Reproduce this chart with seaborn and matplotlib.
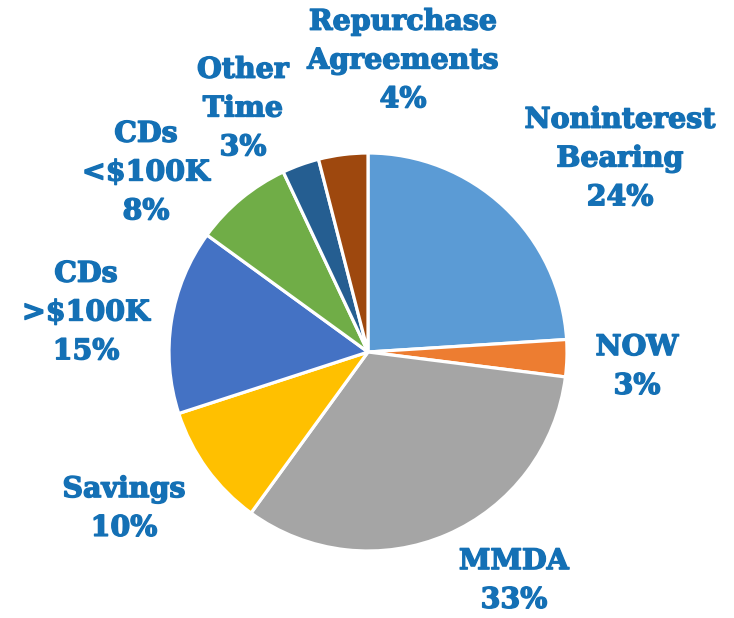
import matplotlib
matplotlib.use("Agg")
import matplotlib.pyplot as plt
import matplotlib.patheffects as pe
import seaborn as sns

categories = ["Noninterest\nBearing", "NOW", "MMDA", "Savings", "CDs\n>$100K",
              "CDs\n<$100K", "Other\nTime", "Repurchase\nAgreements"]
values = [24, 3, 33, 10, 15, 8, 3, 4]
colors = ["#5B9BD5", "#ED7D31", "#A5A5A5", "#FFC000", "#4472C4",
          "#70AD47", "#255E91", "#9E480E"]

# label centre positions in pixels (layout only)
label_px = [(620, 159), (637, 367), (514, 581), (124, 509), (86, 313),
            (146, 173), (243, 109), (403, 61)]

sns.set_theme(style="white")
plt.rcParams['font.family'] = ['DejaVu Serif']

W, H = 734, 618
fig = plt.figure(figsize=(W / 100, H / 100), dpi=100)
cx, cy, r = 368, 352, 199
ax = fig.add_axes([(cx - r) / W, (H - cy - r) / H, 2 * r / W, 2 * r / H])
ax.pie(values, colors=colors, startangle=90, counterclock=False, radius=1,
       wedgeprops=dict(edgecolor="white", linewidth=2.3))
ax.set_xlim(-1, 1)
ax.set_ylim(-1, 1)
ax.set_aspect("equal")
ax.axis("off")

txt_color = "#1470B5"
for cat, v, (px, py) in zip(categories, values, label_px):
    fig.text(px / W, 1 - py / H, f"{cat}\n{v}%", ha="center", va="center",
             fontsize=20.5, fontweight="bold", color=txt_color, linespacing=1.56,
             path_effects=[pe.withStroke(linewidth=1.0, foreground=txt_color)])

fig.savefig("out.png", dpi=100, facecolor="white")
